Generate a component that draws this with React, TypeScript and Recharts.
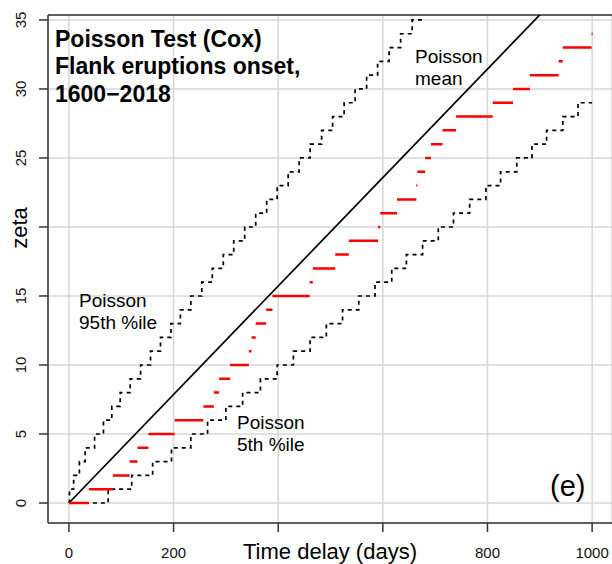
import React from 'react';
import { ComposedChart, Line, XAxis, YAxis, CartesianGrid, ReferenceLine } from 'recharts';

// observed counts: level k runs from OBS_TIMES[k] to OBS_TIMES[k + 1]
const OBS_TIMES = [
  0, 38, 84, 116, 131, 152, 202, 257, 277, 287,
  308, 344, 349, 357, 377, 389, 460, 466, 509, 535,
  591, 595, 627, 664, 666, 681, 692, 714, 740, 810,
  849, 881, 936, 944, 999, 1001,
];

// Poisson 95th percentile: level k starts at P95_TIMES[k]
const P95_TIMES = [
  0, 1, 9, 20, 31, 49, 66, 82, 98, 117,
  137, 156, 175, 195, 213, 233, 254, 274, 295, 315,
  336, 357, 378, 398, 419, 440, 461, 483, 504, 526,
  547, 569, 590, 612, 634, 656,
];
const P95_END = 677;

// Poisson 5th percentile
const P05_TIMES = [
  0, 75, 120, 160, 196, 233, 265, 300, 332, 366,
  398, 429, 461, 492, 523, 554, 585, 617, 645, 676,
  706, 735, 766, 797, 825, 856, 885, 913, 944, 973,
];
const P05_END = 1000;

// Poisson mean line end points
const MEAN_X = [0, 1000];
const MEAN_Y = [0, 39.3];

const X_TICKS = [0, 200, 400, 600, 800, 1000];
const X_LABELED = [0, 200, 800, 1000];
const Y_TICKS = [0, 5, 10, 15, 20, 25, 30, 35];
const Y_HIDDEN = [20];

const X_DOMAIN = [-40, 1038];
const Y_DOMAIN = [-1.45, 35.36];

const FONT = '"Liberation Sans", Arial, Helvetica, sans-serif';

const stepSeries = (times: number[], end: number) => [
  ...times.map((x, k) => ({ x, y: k })),
  { x: end, y: times.length - 1 },
];

const obsSegments = OBS_TIMES.slice(0, -1).flatMap((t, k) => [
  { x: t, y: k },
  { x: OBS_TIMES[k + 1], y: k },
  { x: OBS_TIMES[k + 1], y: null },
]);

const upperData = stepSeries(P95_TIMES, P95_END);
const lowerData = stepSeries(P05_TIMES, P05_END);
const meanData = MEAN_X.map((x, i) => ({ x, y: MEAN_Y[i] }));

const XTick = (props: any) => {
  const { x, y, payload } = props;
  if (!X_LABELED.includes(payload.value)) return <g />;
  return (
    <text x={x} y={y + 26} textAnchor="middle" fontSize={15} fontFamily={FONT} fill="#111">
      {payload.value}
    </text>
  );
};

const YTick = (props: any) => {
  const { x, y, payload } = props;
  if (Y_HIDDEN.includes(payload.value)) return <g />;
  const bx = x - 13;
  return (
    <text x={bx} y={y} transform={`rotate(-90 ${bx} ${y})`} textAnchor="middle" fontSize={15} fontFamily={FONT} fill="#111">
      {payload.value}
    </text>
  );
};

const XTitle = (props: any) => {
  const { x, y, width } = props.viewBox;
  return (
    <text x={x + width / 2} y={y + 36} textAnchor="middle" fontSize={22} fontFamily={FONT} fill="#000">
      Time delay (days)
    </text>
  );
};

const YTitle = () => (
  <text x={27} y={228} transform="rotate(-90 27 228)" textAnchor="middle" fontSize={22} fontFamily={FONT} fill="#000">
    zeta
  </text>
);

const Notes = () => (
  <svg width={612} height={564} style={{ position: 'absolute', left: 0, top: 0, pointerEvents: 'none' }}>
    <g fontFamily={FONT} fill="#000">
      <g fontSize={23} fontWeight="bold">
        <text x={55} y={47}>Poisson Test (Cox)</text>
        <text x={55} y={74}>Flank eruptions onset,</text>
        <text x={55} y={102}>1600−2018</text>
      </g>
      <g fontSize={19}>
        <text x={415} y={63}>Poisson</text>
        <text x={415} y={85}>mean</text>
        <text x={79} y={307}>Poisson</text>
        <text x={79} y={329}>95th %ile</text>
        <text x={237} y={429}>Poisson</text>
        <text x={237} y={451}>5th %ile</text>
      </g>
      <text x={550} y={496} fontSize={29}>(e)</text>
    </g>
  </svg>
);

export default function App() {
  return (
    <div style={{ position: 'relative', width: 612, height: 564, background: '#fff' }}>
      <style>{'body{margin:0}'}</style>
      <ComposedChart width={612} height={564} margin={{ top: 15, right: 0, bottom: 0, left: 0 }}>
        <CartesianGrid stroke="#d6d6d6" strokeWidth={1.5} />
        <XAxis
          type="number"
          dataKey="x"
          domain={X_DOMAIN}
          ticks={X_TICKS}
          allowDataOverflow
          height={41}
          tickSize={9}
          tickMargin={0}
          stroke="#333"
          strokeWidth={1.5}
          tick={<XTick />}
          label={<XTitle />}
        />
        <YAxis
          type="number"
          dataKey="y"
          domain={Y_DOMAIN}
          ticks={Y_TICKS}
          allowDataOverflow
          width={48}
          tickSize={9}
          tickMargin={0}
          stroke="#333"
          strokeWidth={1.5}
          tick={<YTick />}
          label={<YTitle />}
        />
        <ReferenceLine y={Y_DOMAIN[1]} stroke="#333" strokeWidth={1.5} />
        <Line data={meanData} dataKey="y" type="linear" stroke="#000" strokeWidth={1.7} dot={false} isAnimationActive={false} />
        <Line data={upperData} dataKey="y" type="stepAfter" stroke="#000" strokeWidth={1.7} strokeDasharray="4 4" dot={false} isAnimationActive={false} />
        <Line data={lowerData} dataKey="y" type="stepAfter" stroke="#000" strokeWidth={1.7} strokeDasharray="4 4" dot={false} isAnimationActive={false} />
        <Line data={obsSegments} dataKey="y" type="linear" stroke="#ff0000" strokeWidth={2.5} dot={false} connectNulls={false} isAnimationActive={false} />
      </ComposedChart>
      <Notes />
    </div>
  );
}
